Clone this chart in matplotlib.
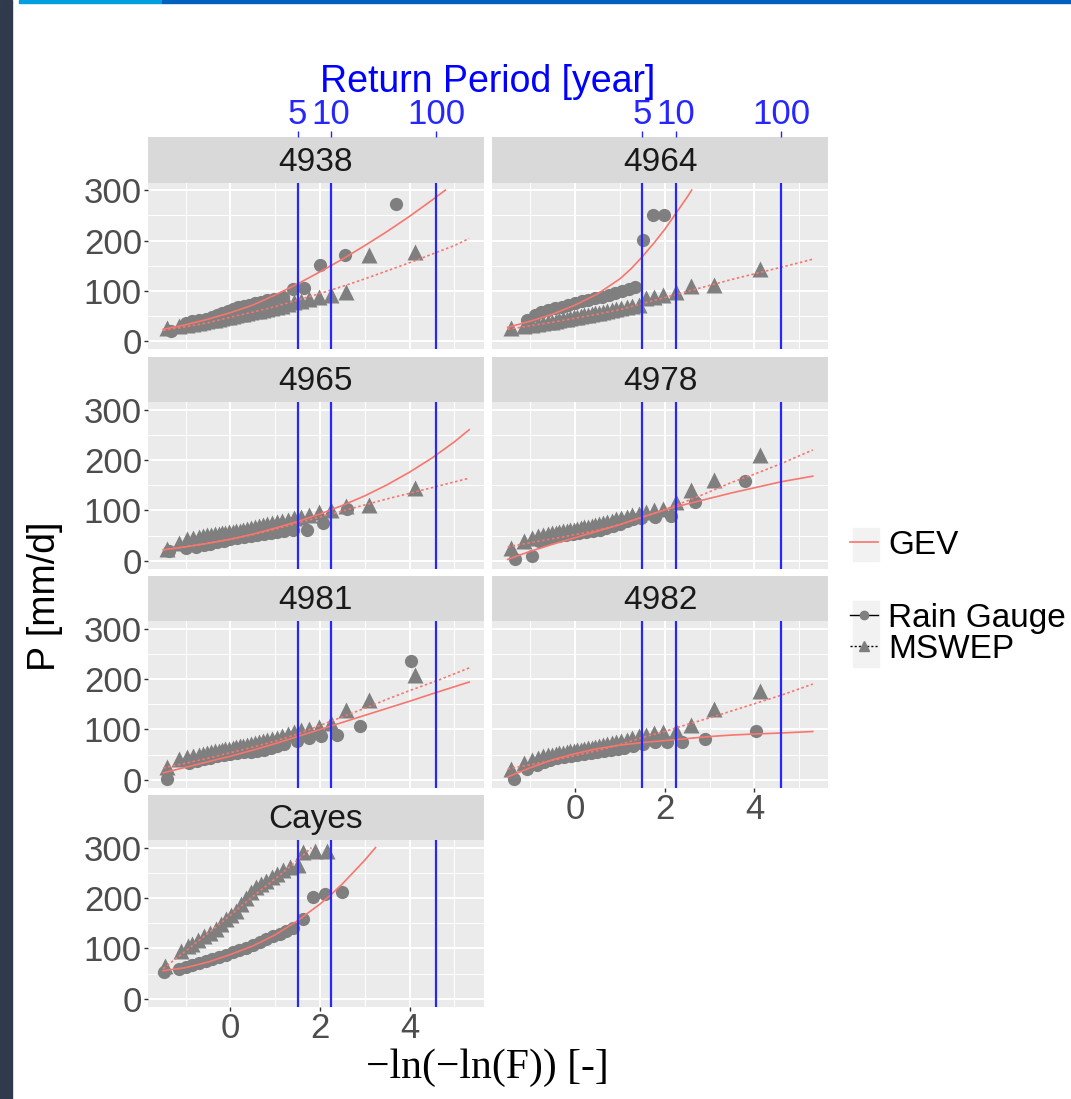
import numpy as np
import matplotlib.pyplot as plt
from matplotlib.lines import Line2D
from matplotlib.patches import Rectangle

plt.rcParams['font.family'] = ['Liberation Sans', 'DejaVu Sans']

W, H = 1071, 1099
GREY = '#7F7F7F'
RED = '#F8766D'
BLUE = '#2626FF'
TICK_COL = '#4D4D4D'

# return periods shown on the top axis
RETURN_PERIODS = [5, 10, 100]
RP_LABELS = ['5', '10', '100']

# shared plotting positions of the MSWEP annual maxima
MSWEP_X = [-1.42, -1.14, -0.96, -0.83, -0.71, -0.61, -0.52, -0.43, -0.35, -0.26,
           -0.18, -0.11, -0.03, 0.05, 0.13, 0.21, 0.29, 0.37, 0.45, 0.54,
           0.63, 0.72, 0.82, 0.92, 1.03, 1.15, 1.28, 1.42, 1.58, 1.76,
           1.97, 2.24, 2.58, 3.09, 4.13]

# ---- 4938
rg_4938_x = [-1.33, -1.0, -0.85, -0.7, -0.55, -0.42, -0.3, -0.18, -0.06, 0.06, 0.18, 0.3,
             0.42, 0.55, 0.68, 0.82, 0.98, 1.17, 1.39, 1.64, 2.0, 2.56, 3.69]
rg_4938_y = [20, 36, 40, 42, 45, 49, 53, 56, 60, 65, 68, 70, 73, 76, 79, 82, 85, 89,
             103, 105, 152, 172, 272]
ms_4938_y = [27, 31, 33, 35, 37, 39, 40, 42, 43, 45, 46, 48, 49, 51, 52, 54, 55, 57, 58, 60,
             61, 63, 65, 67, 69, 71, 74, 78, 81, 85, 89, 93, 97, 172, 178]
fit_rg_4938_x = [-1.5, -1, -0.5, 0, 0.5, 1, 1.5, 2, 2.5, 3, 3.5, 4, 4.5, 4.8]
fit_rg_4938_y = [24, 33, 44, 57, 72, 92, 114, 138, 163, 190, 218, 248, 280, 300]
fit_ms_4938_x = [-1.5, -1, -0.5, 0, 0.5, 1, 1.5, 2, 2.5, 3, 3.5, 4, 4.5, 5, 5.33]
fit_ms_4938_y = [22, 29, 37, 48, 58, 69, 82, 95, 109, 124, 140, 156, 173, 190, 204]

# ---- 4964
rg_4964_x = [-1.07, -0.9, -0.75, -0.6, -0.45, -0.3, -0.15, 0.0, 0.15, 0.3, 0.45, 0.6,
             0.75, 0.9, 1.05, 1.2, 1.33, 1.51, 1.73, 1.98]
rg_4964_y = [43, 52, 58, 62, 66, 69, 72, 76, 80, 83, 86, 89, 92, 96, 100, 103, 108,
             201, 250, 250]
ms_4964_y = [26, 31, 33, 34, 36, 38, 39, 41, 42, 44, 45, 46, 48, 49, 50, 52, 53, 54, 56, 57,
             59, 60, 62, 64, 66, 68, 70, 72, 87, 89, 93, 97, 109, 112, 144]
fit_rg_4964_x = [-1.5, -1, -0.5, 0, 0.5, 1, 1.25, 1.5, 1.75, 2, 2.25, 2.5, 2.6]
fit_rg_4964_y = [28, 40, 54, 72, 94, 124, 144, 168, 194, 222, 254, 286, 300]
fit_ms_4964_x = [-1.5, -1, -0.5, 0, 0.5, 1, 1.5, 2, 2.5, 3, 3.5, 4, 4.5, 5, 5.3]
fit_ms_4964_y = [24, 31, 38, 46, 54, 63, 75, 87, 99, 111, 123, 134, 145, 156, 163]

# ---- 4965
rg_4965_x = [-1.38, -1.0, -0.77, -0.6, -0.45, -0.3, -0.15, 0.0, 0.15, 0.3, 0.45, 0.6,
             0.75, 0.9, 1.05, 1.2, 1.4, 1.7, 2.06, 2.61]
rg_4965_y = [20, 25, 28, 31, 34, 37, 40, 43, 45, 47, 49, 51, 53, 55, 57, 59, 62, 62, 76, 103]
ms_4965_y = [24, 36, 44, 46, 48, 50, 51, 52, 53, 54, 55, 56, 57, 58, 59, 60, 62, 63, 65, 67,
             69, 71, 73, 75, 77, 79, 82, 86, 88, 92, 96, 100, 109, 111, 144]
fit_rg_4965_x = [-1.5, -1, -0.5, 0, 0.5, 1, 1.5, 2, 2.5, 3, 3.5, 4, 4.5, 5, 5.33]
fit_rg_4965_y = [22, 28, 35, 43, 53, 65, 78, 93, 110, 129, 151, 176, 204, 236, 260]
fit_ms_4965_x = [-1.5, -1, -0.5, 0, 0.5, 1, 1.5, 2, 2.5, 3, 3.5, 4, 4.62, 5.33]
fit_ms_4965_y = [22, 28, 35, 43, 52, 63, 75, 87, 99, 111, 123, 134, 148, 164]

# ---- 4978
rg_4978_x = [-1.33, -0.96, -0.8, -0.65, -0.5, -0.35, -0.2, -0.05, 0.1, 0.25, 0.4, 0.55,
             0.7, 0.85, 1.0, 1.15, 1.3, 1.48, 1.78, 2.13, 2.67, 3.78]
rg_4978_y = [3, 10, 40, 44, 47, 49, 51, 53, 55, 57, 59, 62, 66, 70, 74, 79, 84, 85, 87, 89,
             117, 159]
ms_4978_y = [26, 40, 46, 49, 51, 53, 55, 56, 57, 59, 60, 61, 62, 64, 65, 67, 68, 70, 72, 74,
             76, 78, 80, 83, 85, 88, 91, 94, 97, 100, 103, 116, 140, 160, 209]
fit_rg_4978_x = [-1.5, -1, -0.5, 0, 0.5, 1, 1.5, 2, 2.5, 3, 3.5, 4, 4.6, 5.3]
fit_rg_4978_y = [3, 19, 33, 46, 59, 72, 87, 101, 113, 124, 135, 145, 157, 168]
fit_ms_4978_x = [-1.5, -1, -0.5, 0, 0.5, 1, 1.5, 2, 2.5, 3, 3.5, 4, 4.6, 5.3]
fit_ms_4978_y = [28, 36, 44, 52, 61, 72, 86, 102, 119, 137, 156, 172, 193, 220]

# ---- 4981
rg_4981_x = [-1.41, -0.92, -0.75, -0.6, -0.45, -0.3, -0.15, 0.0, 0.15, 0.3, 0.45, 0.6,
             0.75, 0.9, 1.05, 1.2, 1.48, 1.76, 2.02, 2.37, 2.9, 4.04]
rg_4981_y = [2, 34, 38, 41, 44, 47, 49, 51, 53, 55, 56, 58, 60, 64, 68, 72, 78, 83, 87, 89,
             107, 236]
ms_4981_y = [26, 41, 45, 48, 50, 52, 54, 55, 57, 58, 60, 61, 62, 64, 65, 67, 68, 70, 71, 73,
             75, 77, 79, 82, 84, 87, 91, 95, 99, 101, 104, 113, 138, 158, 207]
fit_rg_4981_x = [-1.5, -1, -0.5, 0, 0.5, 1, 1.5, 2, 2.5, 3, 3.5, 4, 4.62, 5.33]
fit_rg_4981_y = [14, 25, 36, 47, 59, 72, 86, 100, 114, 128, 142, 156, 174, 194]
fit_ms_4981_x = [-1.5, -1, -0.5, 0, 0.5, 1, 1.5, 2, 2.5, 3, 3.5, 4, 4.62, 5.33]
fit_ms_4981_y = [24, 33, 43, 54, 65, 77, 91, 108, 125, 142, 160, 177, 197, 222]

# ---- 4982
rg_4982_x = [-1.37, -1.07, -0.85, -0.7, -0.55, -0.4, -0.25, -0.1, 0.05, 0.2, 0.35, 0.5,
             0.65, 0.8, 0.95, 1.1, 1.3, 1.52, 1.78, 2.04, 2.39, 2.9, 4.04]
rg_4982_y = [1, 21, 30, 36, 40, 43, 46, 48, 50, 52, 54, 56, 58, 60, 62, 64, 67, 71, 76, 76,
             76, 82, 96]
ms_4982_y = [22, 34, 40, 44, 47, 49, 50, 52, 53, 54, 56, 57, 58, 59, 60, 62, 63, 64, 66, 67,
             69, 71, 73, 75, 77, 80, 83, 87, 90, 93, 95, 97, 109, 140, 177]
fit_rg_4982_x = [-1.5, -1, -0.5, 0, 0.5, 1, 1.5, 2, 2.5, 3, 3.5, 4, 4.6, 5.3]
fit_rg_4982_y = [6, 24, 40, 52, 62, 69, 74, 78, 82, 86, 89, 91, 93, 96]
fit_ms_4982_x = [-1.5, -1, -0.5, 0, 0.5, 1, 1.5, 2, 2.5, 3, 3.5, 4, 4.6, 5.3]
fit_ms_4982_y = [22, 30, 39, 48, 58, 70, 84, 96, 110, 123, 137, 151, 168, 190]

# ---- Cayes
rg_cayes_x = [-1.48, -1.15, -1.0, -0.85, -0.7, -0.55, -0.4, -0.25, -0.1, 0.05, 0.2, 0.35,
              0.5, 0.65, 0.8, 0.95, 1.1, 1.25, 1.4, 1.62, 1.85, 2.11, 2.49]
rg_cayes_y = [53, 60, 64, 67, 71, 75, 79, 83, 88, 93, 97, 101, 106, 112, 118, 124, 129, 134,
              140, 158, 203, 207, 211]
ms_cayes_x = [-1.45, -1.11, -0.95, -0.85, -0.72, -0.58, -0.45, -0.32, -0.2, -0.1, 0.02, 0.13,
              0.24, 0.35, 0.46, 0.58, 0.69, 0.8, 0.92, 1.03, 1.18, 1.33, 1.51, 1.62, 1.89, 2.15]
ms_cayes_y = [66, 95, 104, 109, 116, 125, 131, 138, 148, 158, 166, 175, 188, 201, 211, 221,
              228, 234, 241, 248, 255, 261, 266, 291, 294, 293]
fit_rg_cayes_x = [-1.5, -1, -0.5, 0, 0.5, 1, 1.5, 2, 2.25, 2.5, 3, 3.24]
fit_rg_cayes_y = [56, 62, 73, 88, 105, 127, 155, 188, 207, 228, 275, 300]
fit_ms_cayes_x = [-1.5, -1, -0.5, 0, 0.5, 1, 1.5, 1.81]
fit_ms_cayes_y = [60, 95, 130, 166, 203, 238, 275, 300]

# facet table: name, row, col, series
panels = [
    ('4938', 0, 0, rg_4938_x, rg_4938_y, MSWEP_X, ms_4938_y,
     fit_rg_4938_x, fit_rg_4938_y, fit_ms_4938_x, fit_ms_4938_y),
    ('4964', 0, 1, rg_4964_x, rg_4964_y, MSWEP_X, ms_4964_y,
     fit_rg_4964_x, fit_rg_4964_y, fit_ms_4964_x, fit_ms_4964_y),
    ('4965', 1, 0, rg_4965_x, rg_4965_y, MSWEP_X, ms_4965_y,
     fit_rg_4965_x, fit_rg_4965_y, fit_ms_4965_x, fit_ms_4965_y),
    ('4978', 1, 1, rg_4978_x, rg_4978_y, MSWEP_X, ms_4978_y,
     fit_rg_4978_x, fit_rg_4978_y, fit_ms_4978_x, fit_ms_4978_y),
    ('4981', 2, 0, rg_4981_x, rg_4981_y, MSWEP_X, ms_4981_y,
     fit_rg_4981_x, fit_rg_4981_y, fit_ms_4981_x, fit_ms_4981_y),
    ('4982', 2, 1, rg_4982_x, rg_4982_y, MSWEP_X, ms_4982_y,
     fit_rg_4982_x, fit_rg_4982_y, fit_ms_4982_x, fit_ms_4982_y),
    ('Cayes', 3, 0, rg_cayes_x, rg_cayes_y, ms_cayes_x, ms_cayes_y,
     fit_rg_cayes_x, fit_rg_cayes_y, fit_ms_cayes_x, fit_ms_cayes_y),
]

# reduced Gumbel variate of each return period
blue_x = [-np.log(-np.log(1 - 1 / T)) for T in RETURN_PERIODS]

XLIM = (-1.85, 5.65)
YLIM = (-15, 315)
COLS = [(147.5, 483.5), (492, 828.5)]
STRIP_TOPS = [137, 356.5, 575.5, 794.5]
STRIP_H = 45.5
PANEL_H = 166.5


def frac(x0, y0, x1, y1):
    return [x0 / W, 1 - y1 / H, (x1 - x0) / W, (y1 - y0) / H]


fig = plt.figure(figsize=(W / 100, H / 100), dpi=100)

# screenshot frame
fig.patches.append(Rectangle((0, 0), 12 / W, 1, transform=fig.transFigure,
                             color='#2F3A4D', zorder=0))
fig.patches.append(Rectangle((19 / W, 1 - 3 / H), (162 - 19) / W, 3 / H,
                             transform=fig.transFigure, color='#00A0E0', zorder=0))
fig.patches.append(Rectangle((162 / W, 1 - 3 / H), (W - 162) / W, 3 / H,
                             transform=fig.transFigure, color='#0060C0', zorder=0))

for (name, r, c, rx, ry, mx, my, frx, fry, fmx, fmy) in panels:
    x0, x1 = COLS[c]
    st = STRIP_TOPS[r]
    pt = st + STRIP_H
    ax = fig.add_axes(frac(x0, pt, x1, pt + PANEL_H))
    ax.set_facecolor('#EBEBEB')
    for s in ax.spines.values():
        s.set_visible(False)
    ax.set_xlim(*XLIM)
    ax.set_ylim(*YLIM)
    ax.set_xticks([0, 2, 4])
    ax.set_xticks([-1, 1, 3, 5], minor=True)
    ax.set_yticks([0, 100, 200, 300])
    ax.set_yticks([50, 150, 250], minor=True)
    ax.grid(which='major', color='white', lw=1.4)
    ax.grid(which='minor', color='white', lw=0.7)
    ax.set_axisbelow(True)
    ax.tick_params(which='minor', length=0)
    ax.tick_params(which='major', colors='#333333', labelcolor=TICK_COL,
                   labelsize=25, length=3, width=1, pad=1)
    if c != 0:
        ax.tick_params(axis='y', length=0, labelleft=False)
    show_x = name in ('Cayes', '4982')
    if not show_x:
        ax.tick_params(axis='x', length=0, labelbottom=False)

    ax.plot(rx, ry, 'o', color=GREY, ms=9.5, mec='none', zorder=2, clip_on=False)
    ax.plot(mx, my, '^', color=GREY, ms=11.5, mec='none', zorder=2, clip_on=False)
    ax.plot(frx, fry, '-', color=RED, lw=1.2, zorder=3)
    ax.plot(fmx, fmy, color=RED, lw=1.2, ls=(0, (1.5, 1.5)), zorder=3)
    for bx in blue_x:
        ax.axvline(bx, color=BLUE, lw=1.6, zorder=4)

    # facet strip
    sax = fig.add_axes(frac(x0, st, x1, pt))
    sax.set_facecolor('#D9D9D9')
    for s in sax.spines.values():
        s.set_visible(False)
    sax.set_xlim(*XLIM)
    sax.set_yticks([])
    sax.text(0.5, 0.45, name, transform=sax.transAxes, ha='center', va='center',
             fontsize=24, color='#1A1A1A')
    if r == 0:
        sax.xaxis.tick_top()
        sax.set_xticks(blue_x)
        sax.set_xticklabels(RP_LABELS)
        sax.tick_params(axis='x', colors=BLUE, labelcolor=BLUE, labelsize=25,
                        length=4, width=1, pad=0)
    else:
        sax.set_xticks([])

fig.text(488 / W, 1 - 82 / H, 'Return Period [year]', color='blue', fontsize=27,
         ha='center', va='center')
fig.text(45 / W, 1 - 596 / H, 'P [mm/d]', rotation=90, fontsize=27,
         ha='center', va='center', color='black')
fig.text(487 / W, 1 - 1068 / H, '\u2212ln(\u2212ln(F)) [-]', fontsize=30,
         family=['Liberation Serif', 'DejaVu Serif'], ha='center', va='center')

# legend key backgrounds
fig.patches.append(Rectangle((853 / W, 1 - 561 / H), 26 / W, 33 / H,
                             transform=fig.transFigure, color='#F2F2F2', zorder=1))
fig.patches.append(Rectangle((853 / W, 1 - 667 / H), 26 / W, 66 / H,
                             transform=fig.transFigure, color='#F2F2F2', zorder=1))

fig.legend(handles=[Line2D([], [], color=RED, lw=1.2)], labels=['GEV'],
           loc='center left', bbox_to_anchor=(850 / W, 1 - 545 / H), frameon=False,
           fontsize=24, handlelength=0.85, handletextpad=0.3, borderpad=0,
           borderaxespad=0)
fig.legend(handles=[Line2D([], [], color='black', lw=1, marker='o', ms=6,
                           mfc=GREY, mec=GREY),
                    Line2D([], [], color='black', lw=1, ls=(0, (1.5, 1.5)), marker='^',
                           ms=7, mfc=GREY, mec=GREY)],
           labels=['Rain Gauge', 'MSWEP'], loc='center left',
           bbox_to_anchor=(850 / W, 1 - 634 / H), frameon=False, fontsize=24,
           handlelength=0.85, handletextpad=0.3, borderpad=0, borderaxespad=0,
           labelspacing=0.0)

fig.savefig('out.png', dpi=100)
